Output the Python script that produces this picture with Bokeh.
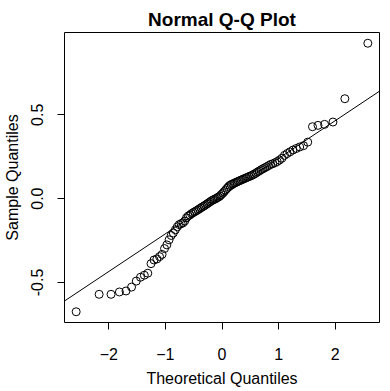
from statistics import NormalDist
import numpy as np
from bokeh.plotting import figure
from bokeh.models import Range1d, FixedTicker, Slope, ColumnDataSource
from bokeh.embed import file_html
from bokeh.resources import INLINE

# Sorted sample values
sample = [
    -0.675, -0.571, -0.571, -0.557, -0.551, -0.528, -0.492, -0.469, -0.457, -0.445,
    -0.388, -0.366, -0.360, -0.346, -0.333, -0.298, -0.276, -0.246, -0.220, -0.205,
    -0.186, -0.168, -0.155, -0.149, -0.145, -0.134, -0.115, -0.104, -0.098, -0.090,
    -0.084, -0.078, -0.073, -0.067, -0.061, -0.055, -0.049, -0.044, -0.038, -0.032,
    -0.026, -0.020, -0.014, -0.009, -0.005, -0.001, 0.005, 0.009, 0.015, 0.024,
    0.032, 0.041, 0.051, 0.061, 0.071, 0.079, 0.084, 0.088, 0.092, 0.096,
    0.100, 0.104, 0.108, 0.112, 0.116, 0.120, 0.124, 0.128, 0.132, 0.136,
    0.141, 0.146, 0.152, 0.159, 0.165, 0.172, 0.178, 0.184, 0.190, 0.197,
    0.204, 0.208, 0.214, 0.221, 0.230, 0.241, 0.258, 0.269, 0.279, 0.290,
    0.299, 0.308, 0.316, 0.337, 0.429, 0.437, 0.443, 0.457, 0.596, 0.927,
]
x_ticks = [-2, -1, 0, 1, 2]
y_ticks = [-0.5, 0.0, 0.5]
y_tick_labels = ["-0.5", "0.0", "0.5"]

n = len(sample)
nd = NormalDist()
theo = [nd.inv_cdf((i + 0.5) / n) for i in range(n)]
ys = np.sort(np.array(sample))

# qqline through the quartiles
q1, q3 = np.percentile(ys, [25, 75])
z1, z3 = nd.inv_cdf(0.25), nd.inv_cdf(0.75)
slope = (q3 - q1) / (z3 - z1)
intercept = q1 - slope * z1

def expand(lo, hi, f=0.04):
    d = (hi - lo) * f
    return lo - d, hi + d

xr = expand(min(theo), max(theo))
yr = expand(float(ys.min()), float(ys.max()))

FONT = "Liberation Sans"
p = figure(width=382, height=389, output_backend="svg", toolbar_location=None,
           x_range=Range1d(*xr), y_range=Range1d(*yr),
           min_border_left=64, min_border_right=3, min_border_top=32, min_border_bottom=64)
p.background_fill_color = "white"
p.border_fill_color = "white"
p.grid.visible = False
p.outline_line_color = "black"
p.outline_line_width = 1

p.title.text = "Normal Q-Q Plot"
p.title.align = "center"
p.title.text_font = FONT
p.title.text_font_size = "19px"
p.title.text_font_style = "bold"
p.title.text_color = "black"
p.title.standoff = 6

p.xaxis.axis_label = "Theoretical Quantiles"
p.yaxis.axis_label = "Sample Quantiles"
p.xaxis.ticker = FixedTicker(ticks=x_ticks)
p.yaxis.ticker = FixedTicker(ticks=y_ticks)
p.yaxis.major_label_overrides = {t: l for t, l in zip(y_ticks, y_tick_labels)}
p.yaxis.major_label_orientation = "vertical"
for ax in (p.xaxis, p.yaxis):
    ax.axis_line_color = None
    ax.major_tick_line_color = "black"
    ax.major_tick_out = 7
    ax.major_tick_in = 0
    ax.minor_tick_line_color = None
    ax.major_label_text_font = FONT
    ax.major_label_text_font_size = "16px"
    ax.major_label_text_color = "black"
    ax.axis_label_text_font = FONT
    ax.axis_label_text_font_size = "16px"
    ax.axis_label_text_font_style = "normal"
    ax.axis_label_text_color = "black"
p.xaxis.major_label_standoff = 18
p.xaxis.axis_label_standoff = 7
p.yaxis.major_label_standoff = 14
p.yaxis.axis_label_standoff = 8

src = ColumnDataSource(dict(x=theo, y=list(ys)))
p.scatter("x", "y", source=src, size=8, fill_color=None, line_color="black", line_width=1)
p.add_layout(Slope(gradient=slope, y_intercept=intercept, line_color="black", line_width=1))

open("out.html", "w").write(file_html(p, INLINE))
